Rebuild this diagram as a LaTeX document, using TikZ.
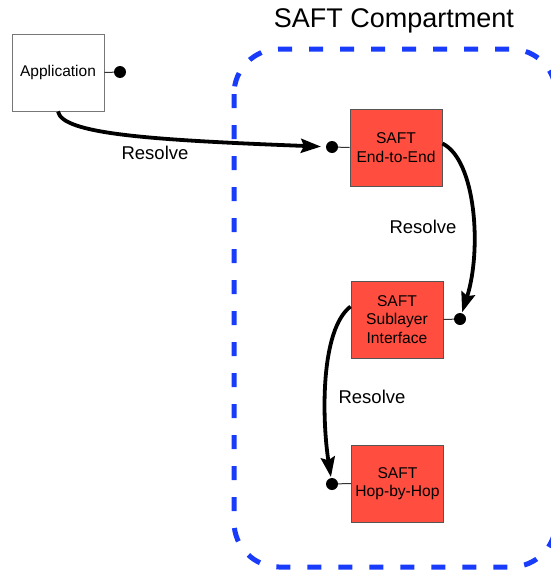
\documentclass[tikz,border=0pt]{standalone}
\usepackage{fontspec}
\setmainfont{Liberation Sans}
\usetikzlibrary{arrows.meta}
\definecolor{saftred}{RGB}{255,77,64}
\definecolor{boxedge}{RGB}{85,85,85}
\definecolor{compblue}{RGB}{25,60,250}
\begin{document}
\begin{tikzpicture}[x=1pt,y=-1pt,
  appbox/.style={draw=boxedge!80,line width=0.9pt,fill=white,minimum width=92pt,minimum height=77pt,inner sep=0pt,font=\fontsize{15.5}{18}\selectfont},
  saftbox/.style={draw=boxedge,line width=0.9pt,fill=saftred,minimum width=92pt,minimum height=77pt,inner sep=0pt,align=center,font=\fontsize{15.6}{18.4}\selectfont},
  port/.style={circle,fill=black,inner sep=0pt,minimum size=12pt},
  stub/.style={line width=1pt,black!80},
  resolve/.style={line width=3.8pt,-{Stealth[length=20pt,width=14pt,inset=3pt]}},
  lbl/.style={font=\fontsize{18.5}{21}\selectfont},
  compartment/.style={draw=compblue,line width=5pt,dash pattern=on 14pt off 17pt,rounded corners=45pt}]
\useasboundingbox (0,0) rectangle (550,570);

% compartment outline and title
\draw[compartment] (234,49) rectangle (556,567);
\node[font=\fontsize{27}{30}\selectfont] (title) at (394,21) {SAFT Compartment};

% components
\node[appbox] (app) at (58,72.5) {Application};
\node[saftbox] (e2e) at (396,147.5) {SAFT\\End-to-End};
\node[saftbox] (sub) at (397,319.5) {SAFT\\Sublayer\\Interface};
\node[saftbox] (hop) at (397.5,483.5) {SAFT\\Hop-by-Hop};

% interface ports
\node[port] (pa) at (120,72) {};
\node[port] (pe) at (332,147) {};
\node[port] (ps) at (460,319) {};
\node[port] (ph) at (332,484) {};
\draw[stub] (app.east) -- (pa);
\draw[stub] (e2e.west) -- (pe);
\draw[stub] (sub.east) -- (ps);
\draw[stub] (hop.west) -- (ph);

% resolution steps
\draw[resolve,shorten >=11pt] (app.south) .. controls (62,134) and (150,140) .. (pe.center);
\draw[resolve,shorten >=7pt] ([yshift=4pt]e2e.east) .. controls (476,160) and (482,250) .. (ps.center);
\draw[resolve,shorten >=7pt] ([yshift=13pt]sub.west) .. controls (320,330) and (322,420) .. (ph.center);

\node[lbl] (r1) at (155,153) {Resolve};
\node[lbl] (r2) at (423,227) {Resolve};
\node[lbl] (r3) at (372,397) {Resolve};
\end{tikzpicture}
\end{document}
